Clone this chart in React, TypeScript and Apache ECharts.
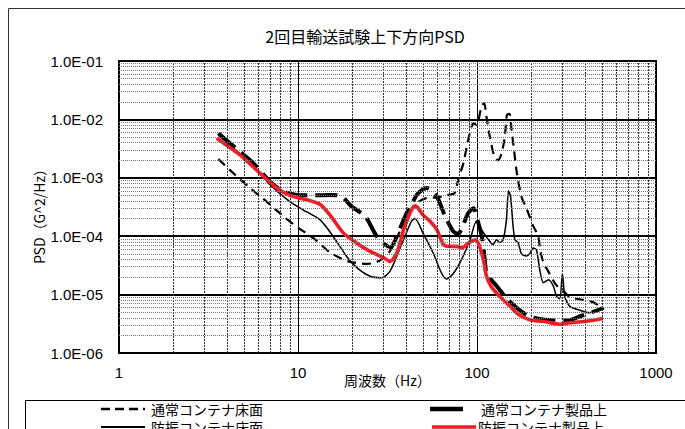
import React, { useEffect, useRef } from "react";
import * as echarts from "echarts";

const TITLE = "2回目輸送試験上下方向PSD";
const X_NAME = "周波数（Hz）";
const Y_NAME = "PSD（G^2/Hz）";
const seriesNames = ["通常コンテナ床面", "防振コンテナ床面", "通常コンテナ製品上", "防振コンテナ製品上"];

const xTickLabels = ["1", "10", "100", "1000"];
const yTickLabels = ["1.0E-06", "1.0E-05", "1.0E-04", "1.0E-03", "1.0E-02", "1.0E-01"];

// 通常コンテナ床面 (thin dashed)
const s1Freq = [3.59, 4.35, 5.39, 6.68, 8.28, 10.0, 12.4, 15.2, 19.1, 24.4, 28.5, 32.6, 36, 40, 45, 52, 60, 67, 75, 78.5, 84, 89.4, 95.5, 99.3, 106, 109.5, 113, 118, 125, 131, 137, 143, 147, 152, 156, 161, 167, 177, 189, 206, 220, 225, 235, 250, 265, 280, 300, 330, 360, 400, 440, 480, 510];
const s1Psd = [2.09e-3, 1.2e-3, 6.7e-4, 3.9e-4, 2.2e-4, 1.4e-4, 8.9e-5, 5.2e-5, 3.7e-5, 3.35e-5, 3.8e-5, 5.5e-5, 1.0e-4, 2.0e-4, 3.5e-4, 4.5e-4, 4.6e-4, 5.0e-4, 5.5e-4, 9.3e-4, 1.8e-3, 4.5e-3, 8.6e-3, 8.0e-3, 1.66e-2, 1.9e-2, 1.1e-2, 5.0e-3, 2.3e-3, 2.0e-3, 2.6e-3, 5.0e-3, 1.2e-2, 1.25e-2, 6.6e-3, 3.0e-3, 1.2e-3, 4.8e-4, 3.0e-4, 1.5e-4, 1.0e-4, 6.0e-5, 3.5e-5, 2.5e-5, 1.8e-5, 1.4e-5, 1.2e-5, 9.0e-6, 8.5e-6, 8.0e-6, 7.5e-6, 6.5e-6, 5.5e-6];

// 防振コンテナ床面 (thin solid)
const s2Freq = [3.6, 4.74, 5.63, 6.98, 9.0, 11.2, 13.3, 15.7, 18.7, 21.3, 25.3, 29.4, 32.6, 35.6, 39.6, 43, 45, 50, 57, 63.5, 67.6, 73.8, 82, 91.4, 99.3, 106, 116, 123, 128.6, 134, 140, 146, 150, 154, 159, 163, 170, 177, 189, 197, 206, 215, 225, 235, 251, 267, 278, 290, 300, 310, 330, 375, 425, 465, 505];
const s2Psd = [5.3e-3, 2.6e-3, 1.6e-3, 7.6e-4, 3.9e-4, 2.6e-4, 1.9e-4, 1.0e-4, 4.5e-5, 2.9e-5, 2.06e-5, 1.94e-5, 2.5e-5, 4.5e-5, 1.0e-4, 1.8e-4, 2.0e-4, 1.12e-4, 5.1e-5, 2.3e-5, 1.85e-5, 2.3e-5, 4.0e-5, 8.7e-5, 1.8e-4, 1.3e-4, 8.7e-5, 7.2e-5, 8.7e-5, 7.8e-5, 8.7e-5, 1.9e-4, 6.0e-4, 4.8e-4, 1.5e-4, 8.7e-5, 7.7e-5, 5.0e-5, 4.6e-5, 5.0e-5, 6.3e-5, 5.8e-5, 2.5e-5, 1.6e-5, 1.8e-5, 1.4e-5, 9.3e-6, 8.5e-6, 2.3e-5, 9.0e-6, 6.3e-6, 5.4e-6, 4.9e-6, 5.3e-6, 5.9e-6];

// 通常コンテナ製品上 (thick long dash)
const s3Freq = [3.59, 4.74, 5.63, 6.98, 8.28, 9.84, 12, 15, 17.5, 20, 23.7, 27.5, 30.6, 33, 35.6, 40.5, 45, 47, 52.4, 59.6, 66.3, 73.8, 78.5, 84, 89.4, 95.5, 101.7, 107, 110, 113, 120, 128.8, 146, 163, 194, 240, 322, 380, 440, 505];
const s3Psd = [5.8e-3, 2.8e-3, 1.78e-3, 8.6e-4, 5.8e-4, 5.1e-4, 5.0e-4, 5.1e-4, 4.8e-4, 3.2e-4, 2.2e-4, 1.0e-4, 7.2e-5, 6.5e-5, 1.0e-4, 2.5e-4, 4.5e-4, 5.5e-4, 6.7e-4, 4.8e-4, 2.2e-4, 1.2e-4, 1.1e-4, 1.6e-4, 2.5e-4, 3.0e-4, 1.7e-4, 9.0e-5, 4.5e-5, 2.3e-5, 1.8e-5, 1.4e-5, 8.7e-6, 6.3e-6, 4.3e-6, 3.7e-6, 3.6e-6, 4.3e-6, 5.0e-6, 5.9e-6];

// 防振コンテナ製品上 (red)
const s4Freq = [3.51, 4.74, 6.13, 7.6, 9.0, 11.2, 13.3, 15.1, 17.9, 21.3, 25.3, 30, 32.6, 35.6, 38.9, 43, 45.3, 50, 54.6, 59.6, 65, 70.6, 77, 82, 89.4, 97.7, 101.7, 108.5, 113, 120, 134, 153, 170, 197, 245, 290, 330, 410, 465, 505];
const s4Psd = [4.77e-3, 2.47e-3, 1.2e-3, 6.7e-4, 5.0e-4, 4.2e-4, 3.5e-4, 2.3e-4, 1.14e-4, 7.6e-5, 5.5e-5, 4.3e-5, 3.7e-5, 5.1e-5, 1.29e-4, 2.8e-4, 3.3e-4, 2.3e-4, 1.8e-4, 1.3e-4, 7.2e-5, 6.7e-5, 6.7e-5, 6.3e-5, 7.6e-5, 8.7e-5, 7.6e-5, 4.0e-5, 2.06e-5, 1.38e-5, 9.3e-6, 6.3e-6, 4.6e-6, 3.7e-6, 3.4e-6, 3.1e-6, 3.3e-6, 3.5e-6, 3.7e-6, 3.9e-6];

// grid-line positions (minor)
const xMinorLines = [2, 3, 4, 5, 6, 7, 8, 9, 20, 30, 40, 50, 60, 70, 80, 90, 200, 300, 400, 500, 600, 700, 800, 900];
const yMinorMultipliers = [2, 3, 4, 5, 6, 7, 8, 9];
const yDecades = [1e-6, 1e-5, 1e-4, 1e-3, 1e-2];

const zip = (f: number[], v: number[]) => f.map((x, i) => [x, v[i]]);

const JP = "'Noto Sans CJK JP', 'Noto Sans', sans-serif";
const LAT = "'Liberation Sans', Arial, sans-serif";

export default function App() {
  const ref = useRef<HTMLDivElement>(null);
  useEffect(() => {
    if (!ref.current) return;
    const chart = echarts.init(ref.current, undefined, { renderer: "svg" });
    const yMinorLines: number[] = [];
    yDecades.forEach((d) => yMinorMultipliers.forEach((m) => yMinorLines.push(m * d)));

    const gl = 119, gt = 61, gw = 537, gh = 292;
    const row1 = 409, row2 = 427;
    const legendText = (text: string, x: number, y: number) => ({
      type: "text", x, y, silent: true,
      style: { text, fontFamily: JP, fontSize: 14, lineHeight: 16, fill: "#000", align: "left", verticalAlign: "middle" },
    });
    const option: any = {
      animation: false,
      backgroundColor: "#fff",
      grid: { left: gl, top: gt, width: gw, height: gh, show: true, borderColor: "#000", borderWidth: 2, backgroundColor: "transparent" },
      xAxis: {
        type: "log", logBase: 10, min: 1, max: 1000, splitNumber: 3,
        name: X_NAME, nameLocation: "middle", nameGap: 20, nameMoveOverlap: false,
        nameTextStyle: { fontFamily: JP, fontSize: 14, color: "#000" },
        axisLine: { show: false }, axisTick: { show: false },
        axisLabel: { margin: 12, fontFamily: LAT, fontSize: 15, color: "#000",
          formatter: (v: number) => xTickLabels[Math.round(Math.log10(v))] },
        splitLine: { show: true, lineStyle: { color: "#000", width: 1 } },
      },
      yAxis: {
        type: "log", logBase: 10, min: 1e-6, max: 1e-1, splitNumber: 5,
        axisLine: { show: false }, axisTick: { show: false },
        axisLabel: { margin: 16, fontFamily: LAT, fontSize: 15, color: "#000",
          formatter: (v: number) => yTickLabels[Math.round(Math.log10(v)) + 6] },
        splitLine: { show: true, lineStyle: { color: "#000", width: 1.8 } },
      },
      series: [
        {
          type: "line", data: [], silent: true, z: 1,
          markLine: { silent: true, precision: 12, symbol: ["none", "none"], label: { show: false }, animation: false,
            lineStyle: { color: "#333", type: [2, 1], width: 1 },
            emphasis: { disabled: true },
            data: xMinorLines.map((v) => ({ xAxis: v })) },
        },
        {
          type: "line", data: [], silent: true, z: 1,
          markLine: { silent: true, precision: 12, symbol: ["none", "none"], label: { show: false }, animation: false,
            lineStyle: { color: "#777", type: [1, 1], width: 1 },
            emphasis: { disabled: true },
            data: yMinorLines.map((v) => ({ yAxis: v })) },
        },
        { name: seriesNames[0], type: "line", z: 3, data: zip(s1Freq, s1Psd), showSymbol: false, symbol: "none", smooth: 0.25,
          lineStyle: { color: "#000", width: 2.2, type: [9, 6] } },
        { name: seriesNames[1], type: "line", z: 3, data: zip(s2Freq, s2Psd), showSymbol: false, symbol: "none", smooth: 0.25,
          lineStyle: { color: "#000", width: 1.5 } },
        { name: seriesNames[2], type: "line", z: 3, data: zip(s3Freq, s3Psd), showSymbol: false, symbol: "none", smooth: 0.25,
          lineStyle: { color: "#000", width: 4, type: [22, 8] } },
        { name: seriesNames[3], type: "line", z: 4, data: zip(s4Freq, s4Psd), showSymbol: false, symbol: "none", smooth: 0.25,
          lineStyle: { color: "#ee1c25", width: 3.6 } },
      ],
      graphic: [
        { type: "rect", z: 0, silent: true, shape: { x: 8.5, y: 8.5, width: 800, height: 500 }, style: { fill: "none", stroke: "#333", lineWidth: 1 } },
        { type: "text", x: 365, y: 36, silent: true, style: { text: TITLE, fontFamily: JP, fontSize: 16, fill: "#000", align: "center", verticalAlign: "middle" } },
        { type: "text", x: 39, y: 213, rotation: Math.PI / 2, silent: true, style: { text: Y_NAME, fontFamily: JP, fontSize: 14, fill: "#000", align: "center", verticalAlign: "middle" } },
        { type: "rect", silent: true, shape: { x: 25.5, y: 400.5, width: 800, height: 100 }, style: { fill: "none", stroke: "#000", lineWidth: 1 } },
        { type: "line", silent: true, shape: { x1: 101, y1: row1, x2: 145, y2: row1 }, style: { stroke: "#000", lineWidth: 2.5, lineDash: [9, 5] } },
        legendText(seriesNames[0], 151, row1),
        { type: "line", silent: true, shape: { x1: 101, y1: row2, x2: 145, y2: row2 }, style: { stroke: "#000", lineWidth: 1.8 } },
        legendText(seriesNames[1], 151, row2),
        { type: "line", silent: true, shape: { x1: 430, y1: row1, x2: 463, y2: row1 }, style: { stroke: "#000", lineWidth: 4.5 } },
        legendText(seriesNames[2], 481, row1),
        { type: "line", silent: true, shape: { x1: 432, y1: row2, x2: 476, y2: row2 }, style: { stroke: "#ee1c25", lineWidth: 3.5 } },
        legendText(seriesNames[3], 478, row2),
      ],
    };
    chart.setOption(option);
    return () => chart.dispose();
  }, []);
  return <div ref={ref} style={{ position: "absolute", left: 0, top: 0, width: 685, height: 429, background: "#fff" }} />;
}
